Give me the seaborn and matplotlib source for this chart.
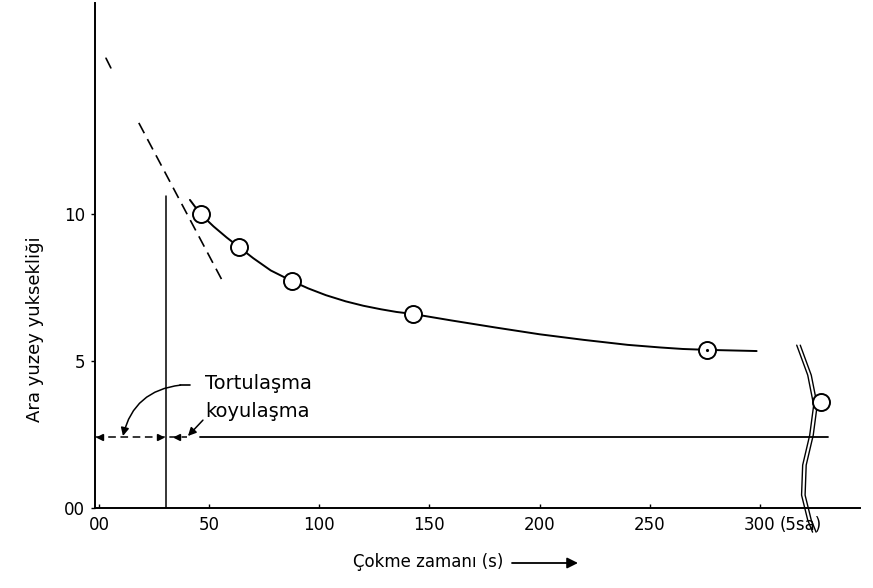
import numpy as np
import pandas as pd
import matplotlib
matplotlib.use("Agg")
import matplotlib.pyplot as plt
import matplotlib.transforms as mtransforms
import seaborn as sns

# ------------------------------------------------------------
# Data
# ------------------------------------------------------------
point_t = [46.1, 63.5, 87.6, 142.5, 275.9]
point_h = [10.0, 8.88, 7.72, 6.6, 5.39]
late_t = [327.9]
late_h = [3.62]

curve_t = [41.3, 46.1, 52.0, 58.0, 63.5, 70.0, 78.0, 87.6, 95.0, 103.0,
           112.0, 120.0, 128.0, 135.0, 142.5, 160.0, 180.0, 200.0, 220.0,
           240.0, 255.0, 265.0, 275.9, 298.5]
curve_h = [10.48, 10.0, 9.58, 9.2, 8.88, 8.5, 8.08, 7.72, 7.47, 7.24,
           7.03, 6.88, 6.76, 6.67, 6.6, 6.38, 6.14, 5.91, 5.72,
           5.55, 5.46, 5.41, 5.38, 5.34]

tangent_t = [18.1, 55.8]
tangent_h = [13.1, 7.76]
tangent_top_t = [3.2, 5.4]
tangent_top_h = [15.3, 14.97]

compression_h = 2.4
compression_t = 30.6
compression_top = 10.6

break_t = [316.7, 321.7, 324.4, 322.6, 319.4, 318.9, 321.7, 323.9]
break_h = [5.54, 4.52, 3.50, 2.48, 1.46, 0.44, -0.41, -0.82]

xtick_vals = [0, 50, 100, 150, 200, 250, 300]
xtick_labels = ["00", "50", "100", "150", "200", "250", "300"]
ytick_vals = [0, 5, 10]
ytick_labels = ["00", "5", "10"]

# ------------------------------------------------------------
# Figure
# ------------------------------------------------------------
sns.set_style("ticks")
plt.rcParams["font.family"] = ["DejaVu Sans"]
plt.rcParams["text.color"] = "black"
plt.rcParams["xtick.color"] = "black"
plt.rcParams["ytick.color"] = "black"
plt.rcParams["axes.edgecolor"] = "black"

fig = plt.figure(figsize=(8.73, 5.88), dpi=100)
ax = fig.add_axes([0.1088, 0.136, 0.876, 0.859])

curve = pd.DataFrame({"t": curve_t, "h": curve_h})
sns.lineplot(data=curve, x="t", y="h", sort=False, estimator=None,
             color="black", lw=1.4, ax=ax)

pts = pd.DataFrame({"t": point_t + late_t, "h": point_h + late_h})
sns.scatterplot(data=pts, x="t", y="h", s=150, facecolor="white",
                edgecolor="black", linewidth=1.4, zorder=5, ax=ax)
ax.plot(point_t[-1], point_h[-1], "k.", ms=2.5, zorder=6)

# tangent (dashed)
ax.plot(tangent_t, tangent_h, color="black", lw=1.2, ls=(0, (7, 4)))
ax.plot(tangent_top_t, tangent_top_h, color="black", lw=1.2)

# vertical at compression point
ax.plot([compression_t, compression_t], [0, compression_top],
        color="black", lw=1.1)

# horizontal line: dashed part + solid part
ax.plot([-1.5, 40], [compression_h, compression_h], color="black",
        lw=1.1, ls=(0, (5, 3)))
ax.plot([45.8, 330.8], [compression_h, compression_h], color="black", lw=1.3)
ax.plot([0.6], [compression_h], marker="<", color="black", ms=5)
ax.plot([27.5], [compression_h], marker=">", color="black", ms=4)
ax.plot([35.5], [compression_h], marker="<", color="black", ms=5)

# axis break
ax.plot(break_t, break_h, color="black", lw=1.0, clip_on=False)
ax.plot([b + 1.6 for b in break_t], break_h, color="black", lw=1.0,
        clip_on=False)

# annotation
ax.text(48.1, 4.25, "Tortulaşma", fontsize=14, va="center", ha="left")
ax.text(48.1, 3.27, "koyulaşma", fontsize=14, va="center", ha="left")
ax.plot([37.0, 41.3], [4.18, 4.18], color="black", lw=1.2)
ax.annotate("", xy=(10.9, 2.45), xytext=(37.0, 4.18),
            arrowprops=dict(arrowstyle="-|>", color="black", lw=1.1,
                            connectionstyle="arc3,rad=0.35",
                            mutation_scale=12, shrinkA=0, shrinkB=0))
ax.annotate("", xy=(40.4, 2.45), xytext=(47.2, 2.99),
            arrowprops=dict(arrowstyle="-|>", color="black", lw=1.1,
                            mutation_scale=12, shrinkA=0, shrinkB=0))

# axes
ax.set_xlim(-1.8, 345.3)
ax.set_ylim(0, 17.18)
ax.set_xticks(xtick_vals)
ax.set_xticklabels(xtick_labels)
ax.set_yticks(ytick_vals)
ax.set_yticklabels(ytick_labels)
ax.tick_params(axis="both", labelsize=12, length=3, width=1, pad=4)
ax.tick_params(axis="x", direction="in", pad=6)
sa_trans = mtransforms.offset_copy(ax.get_xaxis_transform(), fig=fig,
                                   y=-6, units="points")
ax.text(309, 0, "(5sa)", fontsize=12, ha="left", va="top",
        transform=sa_trans)
sns.despine(ax=ax)
for sp in ["left", "bottom"]:
    ax.spines[sp].set_linewidth(1.4)
ax.set_xlabel("")
ax.set_ylabel("")

fig.text(0.04, 0.44, "Ara yuzey yuksekliği", rotation=90, fontsize=13,
         ha="center", va="center")
fig.text(0.49, 0.044, "Çokme zamanı (s)", fontsize=12, ha="center",
         va="center")
ax.annotate("", xy=(578 / 873, 25 / 588), xytext=(512 / 873, 25 / 588),
            xycoords="figure fraction", textcoords="figure fraction",
            arrowprops=dict(arrowstyle="-|>", color="black", lw=1.3,
                            mutation_scale=16, shrinkA=0, shrinkB=0))

fig.savefig("out.png", dpi=100)
